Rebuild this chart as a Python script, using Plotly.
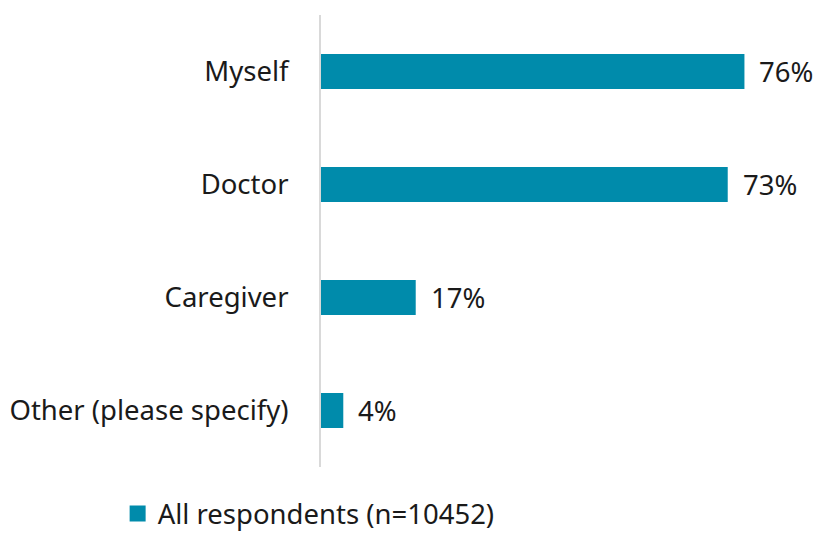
import plotly.graph_objects as go

# Survey responses: who makes decisions about care
categories = ["Myself", "Doctor", "Caregiver", "Other (please specify)"]
values = [76, 73, 17, 4]
series_name = "All respondents (n=10452)"

BAR_COLOR = "#008BAB"
FONT = "Noto Sans"
SIZE = 27.5
TEXT_COLOR = "#1a1a1a"

fig = go.Figure()
fig.add_trace(go.Bar(
    y=categories,
    x=values,
    orientation="h",
    name=series_name,
    marker=dict(color=BAR_COLOR, line=dict(width=0)),
    showlegend=False,
    hoverinfo="skip",
))

# legend entry drawn with a larger square swatch
fig.add_trace(go.Scatter(
    x=[None], y=[None], mode="markers", name=series_name,
    marker=dict(symbol="square", size=18, color=BAR_COLOR),
    showlegend=True, hoverinfo="skip",
))

# value labels to the right of each bar
for cat, v in zip(categories, values):
    fig.add_annotation(
        x=v, y=cat, text=f"{v}%", showarrow=False,
        xanchor="left", xshift=13,
        font=dict(family=FONT, size=SIZE, color=TEXT_COLOR),
    )

fig.update_layout(
    width=823, height=538,
    margin=dict(l=321, r=0, t=15, b=71),
    paper_bgcolor="white", plot_bgcolor="white",
    font=dict(family=FONT, size=SIZE, color=TEXT_COLOR),
    bargap=0.69,
    showlegend=True,
    legend=dict(
        orientation="h",
        xref="container", yref="container",
        x=0.375, y=0.0, xanchor="center", yanchor="bottom",
        bgcolor="rgba(0,0,0,0)",
        font=dict(family=FONT, size=SIZE, color=TEXT_COLOR),
        itemclick=False, itemdoubleclick=False,
    ),
    xaxis=dict(
        range=[0, 90.1], visible=False, fixedrange=True,
    ),
    yaxis=dict(
        categoryorder="array", categoryarray=categories[::-1],
        showline=True, linecolor="#d9d9d9", linewidth=2,
        ticks="", showgrid=False, zeroline=False,
        ticklabelstandoff=25, fixedrange=True,
    ),
)

fig.write_html("out.html")
